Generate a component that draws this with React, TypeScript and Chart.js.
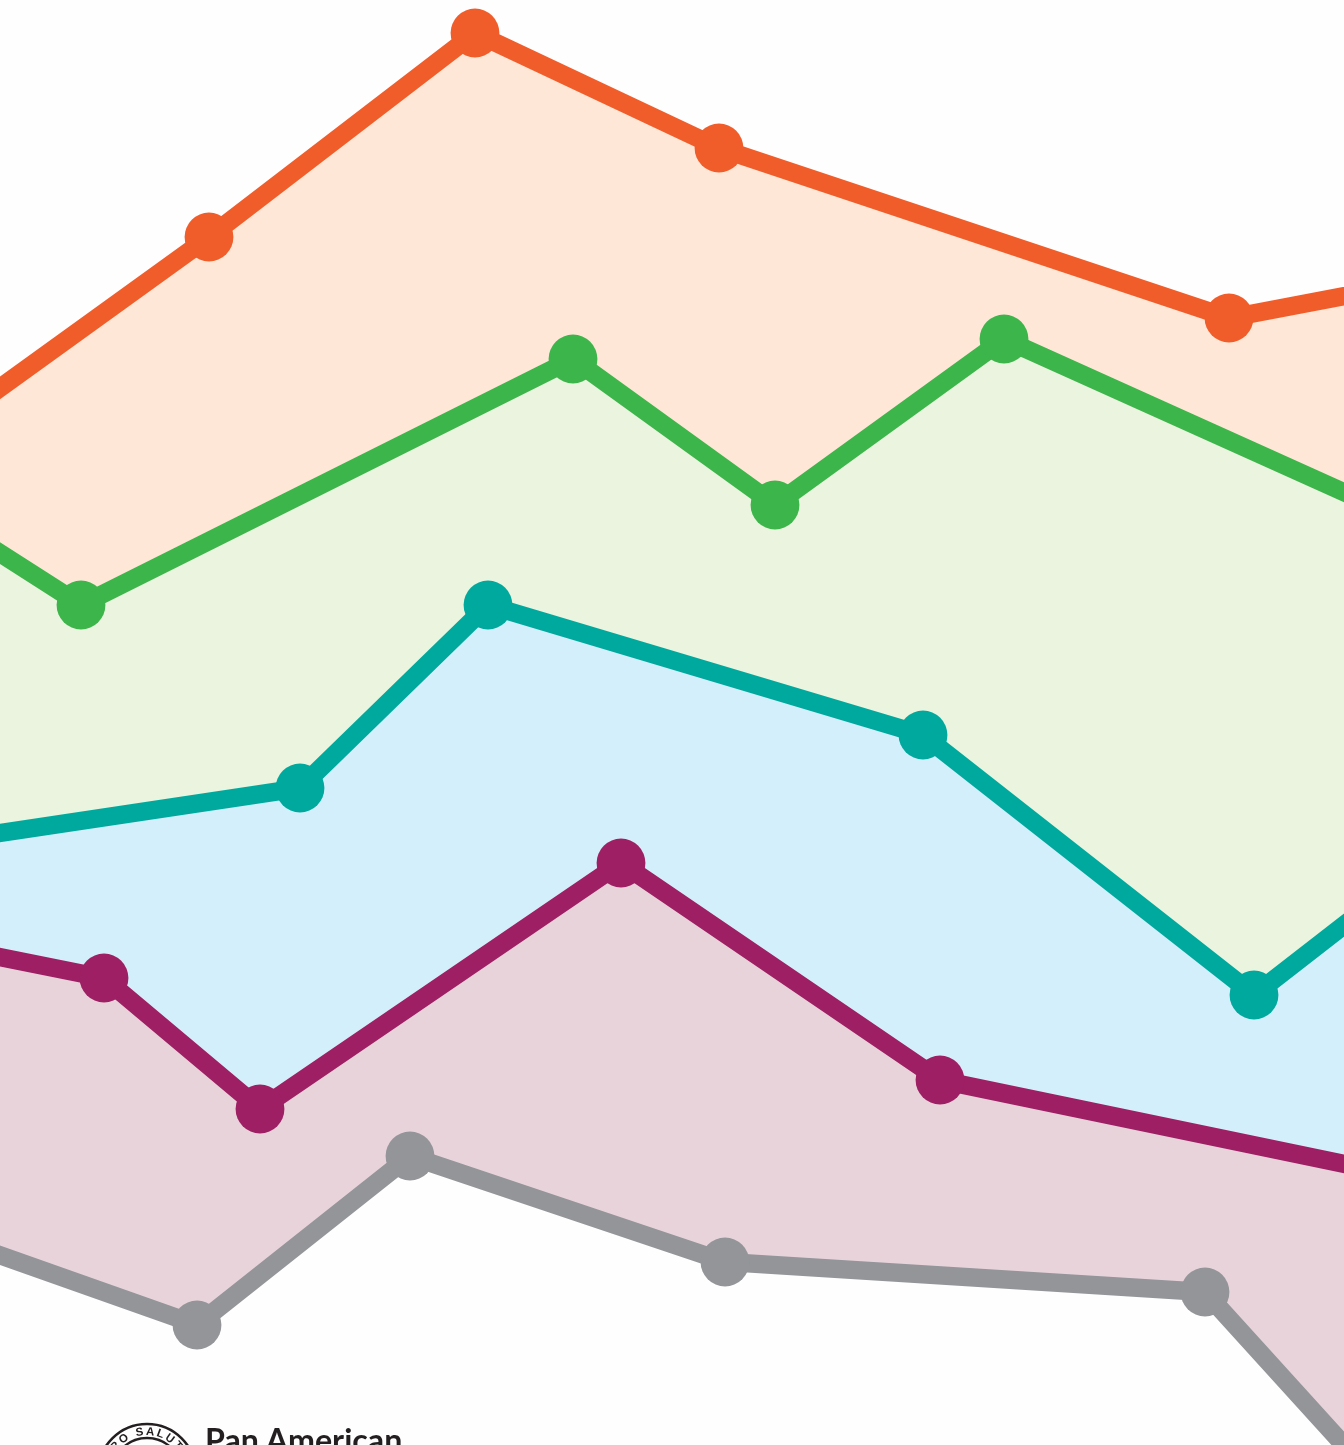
import React, { useEffect, useRef } from "react";
import { Chart, registerables } from "chart.js";

Chart.register(...registerables);

const orangeX = [-100, 209, 475, 719, 1229, 1450];
const orangeV = [985, 1208, 1412, 1297, 1127, 1169];
const greenX = [-100, 81, 573, 775, 1004, 1450];
const greenV = [956, 840, 1086, 940, 1106, 905];
const tealX = [-100, 300, 488, 923, 1254, 1450];
const tealV = [597, 657, 840, 710, 450, 602];
const magentaX = [-100, 104, 260, 621, 940, 1450];
const magentaV = [508, 467, 336, 582, 365, 259];
const grayX = [-100, 197, 410, 725, 1205, 1450];
const grayV = [225, 120, 289, 183, 153, -117];

const lineColors = ["#F15D2A", "#3CB54A", "#00A99D", "#9E1F63", "#939598"];
const fillColors = ["#FEE7D7", "#EAF4DF", "#D3EFFB", "#E9D3DB", "transparent"];
const seriesNames = ["Orange", "Green", "Teal", "Magenta", "Gray"];
const orgName = "Pan American";

const zip = (xs: number[], ys: number[]) => xs.map((x, i) => ({ x, y: ys[i] }));

export default function App() {
  const ref = useRef<HTMLCanvasElement>(null);
  useEffect(() => {
    const series = [
      zip(orangeX, orangeV),
      zip(greenX, greenV),
      zip(tealX, tealV),
      zip(magentaX, magentaV),
      zip(grayX, grayV),
    ];
    const chart = new Chart(ref.current!, {
      type: "line",
      data: {
        datasets: series.map((data, i) => ({
          label: seriesNames[i],
          data,
          borderColor: lineColors[i],
          backgroundColor: fillColors[i],
          pointBackgroundColor: lineColors[i],
          pointBorderWidth: 0,
          pointRadius: 24.4,
          borderWidth: 18.4,
          tension: 0,
          borderJoinStyle: "miter" as const,
          fill: i < 4 ? "+1" : false,
        })),
      },
      options: {
        animation: false,
        responsive: false,
        layout: { padding: 0, autoPadding: false },
        scales: {
          x: { type: "linear", min: 0, max: 1344, display: false },
          y: { type: "linear", min: 0, max: 1445, display: false },
        },
        plugins: {
          legend: { display: false },
          tooltip: { enabled: false },
          filler: { drawTime: "beforeDatasetsDraw", propagate: false },
        },
      },
    });
    return () => chart.destroy();
  }, []);

  return (
    <div
      style={{
        position: "fixed",
        left: 0,
        top: 0,
        width: 1344,
        height: 1445,
        overflow: "hidden",
        background: "#FEFEFE",
      }}
    >
      <canvas
        ref={ref}
        width={1344}
        height={1445}
        style={{ position: "absolute", left: 0, top: 0, width: 1344, height: 1445 }}
      />
      <svg
        width={120}
        height={30}
        viewBox="87 1415 120 30"
        style={{ position: "absolute", left: 87, top: 1415 }}
      >
        <defs>
          <path id="sealArc" d="M 109 1473 A 38 38 0 0 1 185 1473" fill="none" />
        </defs>
        <circle cx={147} cy={1473} r={49} fill="none" stroke="#231F20" strokeWidth={2.6} />
        <circle cx={147} cy={1473} r={35} fill="none" stroke="#231F20" strokeWidth={2.4} />
        <text fontFamily="Liberation Sans" fontSize={11.5} fontWeight={700} fill="#231F20" letterSpacing={2}>
          <textPath href="#sealArc" startOffset="50%" textAnchor="middle">
            PRO SALUTE
          </textPath>
        </text>
      </svg>
      <div
        style={{
          position: "absolute",
          left: 205,
          top: 1420,
          fontFamily: "Lato",
          fontWeight: 700,
          fontSize: 32.2,
          lineHeight: "40px",
          color: "#231F20",
          whiteSpace: "nowrap",
        }}
      >
        {orgName}
      </div>
    </div>
  );
}
